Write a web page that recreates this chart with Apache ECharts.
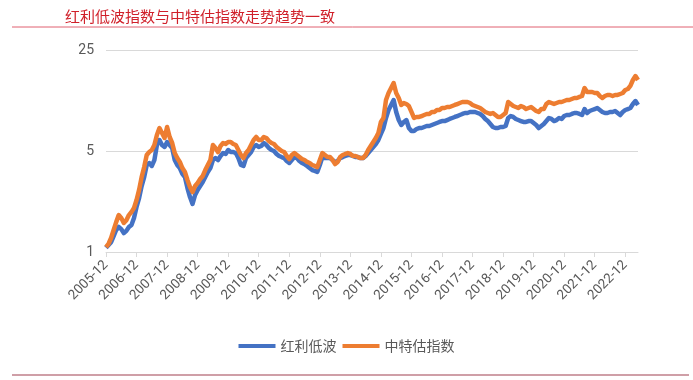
<!DOCTYPE html>
<html>
<head>
<meta charset="utf-8">
<script src="https://cdn.jsdelivr.net/npm/echarts@6/dist/echarts.min.js"></script>
<style>
html,body{margin:0;padding:0;background:#fff;}
#chart{width:693px;height:380px;}
</style>
</head>
<body>
<div id="chart"></div>
<script>
// Monthly categories from 2005-12 to 2023-05
const startYear = 2005, startMonth = 12, monthCount = 210;
const categories = [];
for (let i = 0; i < monthCount; i++) {
  const t = (startYear * 12 + (startMonth - 1)) + i;
  const y = Math.floor(t / 12), m = t % 12 + 1;
  categories.push(y + '-' + (m < 10 ? '0' + m : m));
}

const titleText = '红利低波指数与中特估指数走势趋势一致';
const seriesNames = ['红利低波', '中特估指数'];
const yTicks = [1, 5, 25];

// 红利低波 (blue)
const dividendLowVol = [
1.07,1.12,1.17,1.29,1.42,1.49,1.44,1.35,1.40,1.49,1.54,1.72,
2.05,2.36,2.86,3.30,4.00,4.13,3.94,4.33,5.50,5.96,5.50,5.33,
5.77,5.50,5.25,4.33,4.00,3.81,3.47,3.30,2.77,2.40,2.15,2.48,
2.69,2.86,3.05,3.30,3.58,3.81,4.33,4.47,4.33,4.62,4.84,4.77,
5.08,4.92,4.92,4.84,4.47,4.00,3.94,4.47,4.69,4.92,5.33,5.50,
5.33,5.42,5.68,5.50,5.25,5.08,5.00,4.77,4.62,4.54,4.47,4.26,
4.13,4.33,4.54,4.47,4.26,4.13,4.06,3.94,3.81,3.69,3.64,3.58,
4.00,4.54,4.47,4.47,4.47,4.33,4.20,4.26,4.47,4.54,4.62,4.69,
4.69,4.62,4.54,4.54,4.47,4.47,4.62,4.84,5.08,5.33,5.59,5.96,
6.56,7.21,8.46,9.61,10.41,11.27,9.31,8.19,7.57,7.94,8.19,7.21,
6.88,6.88,7.10,7.21,7.21,7.33,7.45,7.45,7.57,7.69,7.81,7.94,
8.06,8.06,8.19,8.33,8.46,8.60,8.73,8.87,9.02,9.16,9.16,9.31,
9.31,9.31,9.16,9.02,8.73,8.33,8.06,7.69,7.33,7.21,7.21,7.33,
7.33,7.45,8.46,8.73,8.60,8.33,8.19,8.06,7.94,7.94,8.06,8.06,
7.81,7.57,7.21,7.45,7.69,8.06,8.46,8.33,8.06,8.19,8.46,8.33,
8.73,8.87,8.87,9.02,9.16,9.16,9.02,8.87,9.76,9.16,9.46,9.61,
9.76,9.92,9.61,9.31,9.16,9.16,9.31,9.31,9.46,9.16,8.87,9.31,
9.61,9.76,9.92,10.57,11.09,10.41
];

// 中特估指数 (orange)
const stateOwnedValuation = [
1.08,1.14,1.25,1.42,1.61,1.80,1.72,1.59,1.66,1.80,1.89,2.02,
2.29,2.69,3.30,3.87,4.69,4.92,5.08,5.50,6.45,7.21,6.66,6.15,
7.33,6.25,5.68,4.84,4.47,4.20,3.81,3.58,3.15,2.82,2.60,2.86,
3.00,3.20,3.36,3.69,4.00,4.33,5.50,5.25,4.92,5.42,5.68,5.59,
5.77,5.77,5.59,5.50,5.08,4.69,4.47,4.84,5.08,5.50,5.96,6.25,
5.96,5.96,6.25,6.15,5.86,5.68,5.59,5.33,5.16,5.00,4.92,4.62,
4.40,4.69,4.84,4.69,4.54,4.40,4.33,4.20,4.13,4.00,3.94,3.87,
4.33,4.84,4.69,4.54,4.54,4.33,4.06,4.20,4.54,4.69,4.77,4.84,
4.77,4.62,4.62,4.54,4.47,4.47,4.69,5.08,5.42,5.77,6.15,6.66,
7.94,8.46,11.27,12.60,13.64,14.78,12.60,11.64,10.41,10.74,10.57,10.24,
9.31,8.46,8.60,8.60,8.73,8.87,9.02,9.02,9.31,9.31,9.61,9.61,
9.92,9.92,10.08,10.08,10.24,10.41,10.57,10.74,10.92,10.92,10.92,10.74,
10.41,10.24,10.08,9.92,9.61,9.31,9.16,9.02,9.16,8.87,8.60,8.60,
8.87,9.16,10.92,10.57,10.24,10.08,9.92,10.24,10.08,9.76,9.92,10.08,
9.76,9.46,9.31,9.76,9.76,10.57,10.92,10.74,10.57,10.74,10.92,10.92,
11.09,11.27,11.27,11.45,11.64,11.64,11.83,12.01,13.64,12.80,12.80,12.80,
12.60,12.60,12.01,11.64,12.01,12.21,12.21,12.01,12.21,12.21,12.40,12.60,
13.22,13.43,14.12,15.50,16.50,15.50
];

const chart = echarts.init(document.getElementById('chart'));
const textGray = '#595959';
const decFilter = function (idx) { return idx % 12 === 0; };

chart.setOption({
  backgroundColor: '#ffffff',
  animation: false,
  title: {
    text: titleText,
    left: 60,
    top: 4,
    textStyle: {
      color: '#d0202a',
      fontSize: 15,
      fontWeight: 'normal',
      fontFamily: '"Noto Sans CJK SC", sans-serif'
    }
  },
  graphic: [
    { type: 'line', shape: { x1: 12, y1: 27, x2: 693, y2: 27 }, style: { stroke: '#e06070', lineWidth: 1 } },
    { type: 'line', shape: { x1: 12, y1: 375, x2: 689, y2: 375 }, style: { stroke: '#a04050', lineWidth: 1.2 } }
  ],
  legend: {
    data: seriesNames,
    bottom: 22,
    left: 'center',
    icon: 'rect',
    itemWidth: 37,
    itemHeight: 4,
    itemGap: 6,
    textStyle: {
      color: textGray,
      fontSize: 14,
      fontFamily: '"Noto Sans CJK SC", sans-serif'
    }
  },
  grid: { left: 106, right: 55, top: 50, bottom: 128 },
  xAxis: {
    type: 'category',
    data: categories,
    boundaryGap: false,
    axisLine: { lineStyle: { color: '#d9d9d9', width: 1 } },
    axisTick: { interval: decFilter, length: 5, lineStyle: { color: '#d9d9d9' } },
    axisLabel: {
      interval: decFilter,
      rotate: 45,
      color: textGray,
      fontSize: 13.5,
      margin: 11,
      fontFamily: 'Roboto, "Noto Sans", sans-serif'
    },
    splitLine: { show: false }
  },
  yAxis: {
    type: 'log',
    logBase: 5,
    min: yTicks[0],
    max: yTicks[yTicks.length - 1],
    axisLine: { show: false },
    axisTick: { show: false },
    axisLabel: {
      color: textGray,
      fontSize: 14,
      margin: 12,
      fontFamily: 'Roboto, "Noto Sans", sans-serif'
    },
    splitLine: { lineStyle: { color: '#d9d9d9', width: 1 } }
  },
  series: [
    {
      name: seriesNames[0],
      type: 'line',
      data: dividendLowVol,
      showSymbol: false,
      symbol: 'none',
      color: '#4472c4',
      lineStyle: { width: 4.5, color: '#4472c4', join: 'round' }
    },
    {
      name: seriesNames[1],
      type: 'line',
      data: stateOwnedValuation,
      showSymbol: false,
      symbol: 'none',
      color: '#ed7d31',
      lineStyle: { width: 4.5, color: '#ed7d31', join: 'round' }
    }
  ]
});
</script>
</body>
</html>
